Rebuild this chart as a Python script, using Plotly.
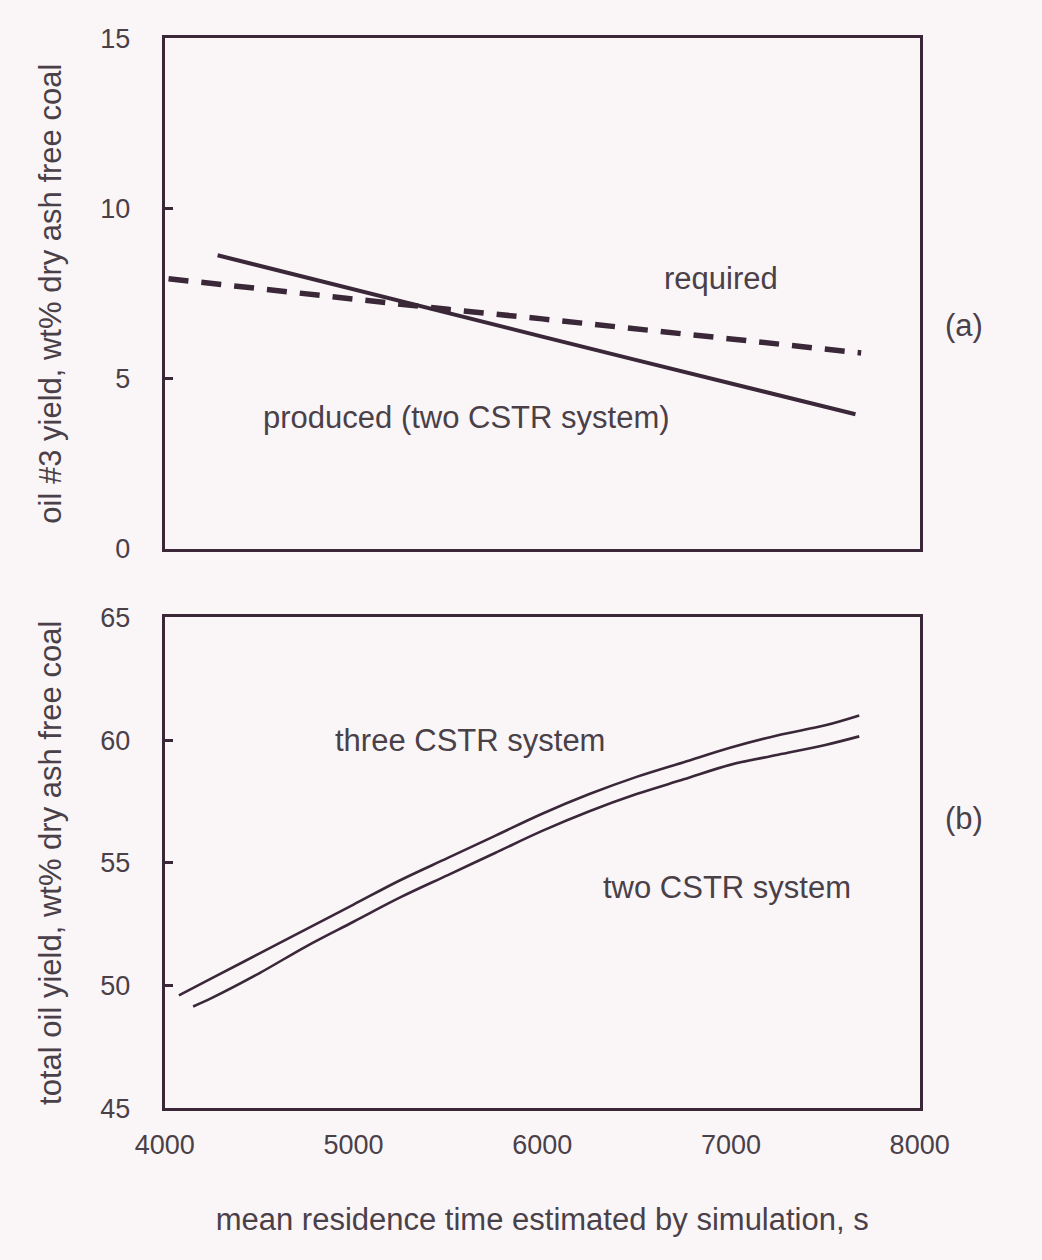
import plotly.graph_objects as go

# ---- panel (a): oil #3 yield vs mean residence time ----
produced_x = [4280, 5000, 5500, 6000, 6500, 7000, 7660]
produced_y = [8.63, 7.62, 6.93, 6.24, 5.55, 4.87, 3.96]

required_x = [4020, 4500, 5000, 5500, 6000, 6500, 7000, 7690]
required_y = [7.94, 7.64, 7.36, 7.04, 6.76, 6.48, 6.17, 5.76]

# ---- panel (b): total oil yield vs mean residence time ----
three_x = [4075, 4250, 4500, 4750, 5000, 5250, 5500, 5750, 6000, 6250,
           6500, 6750, 7000, 7250, 7500, 7680]
three_y = [49.6, 50.3, 51.3, 52.3, 53.3, 54.3, 55.2, 56.1, 57.0, 57.8,
           58.5, 59.1, 59.7, 60.2, 60.6, 61.0]

two_x = [4150, 4250, 4500, 4750, 5000, 5250, 5500, 5750, 6000, 6250,
         6500, 6750, 7000, 7250, 7500, 7680]
two_y = [49.15, 49.5, 50.5, 51.6, 52.6, 53.6, 54.5, 55.4, 56.3, 57.1,
         57.8, 58.4, 59.0, 59.4, 59.8, 60.15]

x_ticks = [4000, 5000, 6000, 7000, 8000]
top_y_ticks = [0, 5, 10, 15]
bottom_y_ticks = [45, 50, 55, 60, 65]

LINE = "#3a2838"
TEXT = "#4a4048"
FONT = "Liberation Sans, Arial, sans-serif"
TICK_FS = 27
TEXT_FS = 31
TITLE_FS = 31

W, H = 1042, 1260
x_dom = [143 / W, 944 / W]
top_dom = [(H - 547) / H, (H - 24) / H]
bot_dom = [(H - 1120) / H, (H - 617) / H]

fig = go.Figure()

fig.add_trace(go.Scatter(x=produced_x, y=produced_y, mode="lines",
                         line=dict(color=LINE, width=4),
                         xaxis="x", yaxis="y", showlegend=False))
fig.add_trace(go.Scatter(x=required_x, y=required_y, mode="lines",
                         line=dict(color=LINE, width=5.5, dash="20px,13px"),
                         xaxis="x", yaxis="y", showlegend=False))
fig.add_trace(go.Scatter(x=three_x, y=three_y, mode="lines",
                         line=dict(color=LINE, width=2.6, shape="spline"),
                         xaxis="x2", yaxis="y2", showlegend=False))
fig.add_trace(go.Scatter(x=two_x, y=two_y, mode="lines",
                         line=dict(color=LINE, width=2.6, shape="spline"),
                         xaxis="x2", yaxis="y2", showlegend=False))

axis_common = dict(showline=True, linecolor=LINE, linewidth=3, mirror=True,
                   showgrid=False, zeroline=False,
                   tickfont=dict(family=FONT, size=TICK_FS, color=TEXT))

fig.update_layout(
    width=W, height=H,
    margin=dict(l=0, r=0, t=0, b=0),
    paper_bgcolor="#faf6f8", plot_bgcolor="#faf6f8",
    font=dict(family=FONT, size=TEXT_FS, color=TEXT),
    xaxis=dict(domain=x_dom, range=[4000, 8000], anchor="y",
               showticklabels=False, ticks="", **axis_common),
    yaxis=dict(domain=top_dom, range=[0, 15], anchor="x",
               tickvals=top_y_ticks, ticks="inside", ticklen=8,
               tickwidth=2.5, tickcolor=LINE, ticklabelstandoff=26,
               title=dict(text="oil #3 yield, wt% dry ash free coal",
                          font=dict(family=FONT, size=TITLE_FS, color=TEXT),
                          standoff=30),
               **axis_common),
    xaxis2=dict(domain=x_dom, range=[4000, 8000], anchor="y2",
                tickvals=x_ticks, ticks="", ticklabelstandoff=10,
                title=dict(text="mean residence time estimated by simulation, s",
                           font=dict(family=FONT, size=TITLE_FS, color=TEXT),
                           standoff=50),
                **axis_common),
    yaxis2=dict(domain=bot_dom, range=[45, 65], anchor="x2",
                tickvals=bottom_y_ticks, ticks="inside", ticklen=8,
                tickwidth=2.5, tickcolor=LINE, ticklabelstandoff=26,
                title=dict(text="total oil yield, wt% dry ash free coal",
                           font=dict(family=FONT, size=TITLE_FS, color=TEXT),
                           standoff=30),
                **axis_common),
)

labels = [
    dict(x=6950, y=7.94, xref="x", yref="y", text="required"),
    dict(x=5600, y=3.87, xref="x", yref="y", text="produced (two CSTR system)"),
    dict(x=5620, y=60.0, xref="x2", yref="y2", text="three CSTR system"),
    dict(x=6980, y=54.0, xref="x2", yref="y2", text="two CSTR system"),
    dict(x=1013 / W, y=(H - 298) / H, xref="paper", yref="paper", text="(a)"),
    dict(x=1013 / W, y=(H - 843) / H, xref="paper", yref="paper", text="(b)"),
]
for a in labels:
    fig.add_annotation(showarrow=False,
                       font=dict(family=FONT, size=TEXT_FS, color=TEXT), **a)

fig.write_html("out.html")
